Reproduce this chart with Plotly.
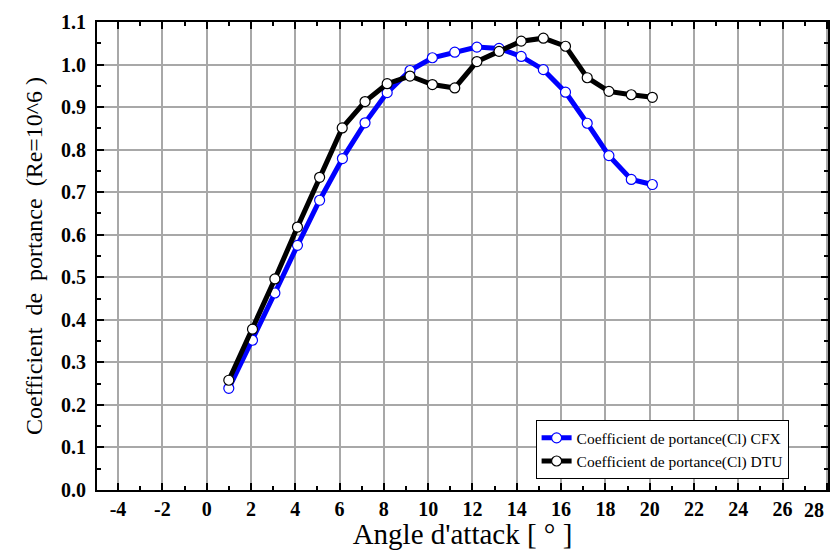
import plotly.graph_objects as go

# Angle of attack (degrees)
x_cfx = [1.0, 2.07, 3.08, 4.1, 5.1, 6.13, 7.15, 8.15, 9.18, 10.19, 11.2, 12.2, 13.2, 14.2, 15.2, 16.2, 17.18, 18.16, 19.17, 20.12]
x_dtu = [1.0, 2.07, 3.08, 4.1, 5.1, 6.12, 7.15, 8.15, 9.18, 10.19, 11.2, 12.2, 13.2, 14.2, 15.2, 16.2, 17.18, 18.16, 19.17, 20.12]

cl_cfx = [0.239, 0.352, 0.463, 0.575, 0.681, 0.779, 0.863, 0.934, 0.986, 1.016,
          1.029, 1.041, 1.038, 1.019, 0.988, 0.935, 0.862, 0.786, 0.730, 0.718]
cl_dtu = [0.258, 0.378, 0.496, 0.618, 0.735, 0.851, 0.913, 0.955, 0.973, 0.953,
          0.945, 1.007, 1.031, 1.055, 1.062, 1.043, 0.969, 0.937, 0.929, 0.923]

name_cfx = "Coefficient de portance(Cl) CFX"
name_dtu = "Coefficient de portance(Cl) DTU"

x_ticks = list(range(-4, 29, 2))
x_last = x_ticks[-1]
y_ticks = [i / 10 for i in range(0, 12)]
y_ticktext = [f"{v:.1f}" for v in y_ticks]

SERIF = "Liberation Serif, Times New Roman, serif"
TICKFONT = dict(family=SERIF, size=20, color="black", weight="bold")

fig = go.Figure()
fig.add_trace(go.Scatter(
    x=x_cfx, y=cl_cfx, mode="lines+markers", name=name_cfx,
    line=dict(color="#0000ff", width=5),
    marker=dict(symbol="circle", size=10, color="white",
                line=dict(color="#0000ff", width=1.2)),
))
fig.add_trace(go.Scatter(
    x=x_dtu, y=cl_dtu, mode="lines+markers", name=name_dtu,
    line=dict(color="black", width=5),
    marker=dict(symbol="circle", size=10, color="white",
                line=dict(color="black", width=1.2)),
))

axis_common = dict(
    showline=True, linecolor="black", linewidth=2, mirror="ticks",
    ticks="inside", ticklen=7, tickwidth=2, tickcolor="black",
    showgrid=True, gridcolor="#a8a8a8", gridwidth=1.5,
    zeroline=False,
    tickfont=TICKFONT,
)

# the last tick label (28) sits at the page edge: it is drawn as an annotation
# pushed left so that it stays fully visible, like in the original
x_ticktext = [str(v) for v in x_ticks[:-1]] + [""]

fig.update_xaxes(
    range=[-4.95, 28.05], tickvals=x_ticks, ticktext=x_ticktext,
    minor=dict(dtick=1, tick0=0, ticks="inside", ticklen=4, tickwidth=1.5,
               tickcolor="black", showgrid=False),
    title=dict(text="Angle d'attack [ ° ]", font=dict(family=SERIF, size=29, color="black"),
               standoff=0),
    **axis_common,
)
fig.update_yaxes(
    range=[0, 1.1], tickvals=y_ticks, ticktext=y_ticktext,
    minor=dict(dtick=0.05, tick0=0, ticks="inside", ticklen=4, tickwidth=1.5,
               tickcolor="black", showgrid=False),
    ticklabelstandoff=5,
    title=dict(text="Coefficient  de  portance  (Re=10^6 )",
               font=dict(family=SERIF, size=24, color="black"), standoff=12),
    **axis_common,
)

fig.add_annotation(
    x=x_last, xref="x", y=0, yref="paper", text=str(x_last),
    showarrow=False, xanchor="right", yanchor="top", xshift=-1, yshift=-7,
    font=TICKFONT,
)

fig.update_layout(
    width=830, height=550,
    margin=dict(l=97, r=0, t=22, b=60),
    paper_bgcolor="white", plot_bgcolor="white",
    showlegend=True,
    legend=dict(
        x=0.6, y=0.149, xanchor="left", yanchor="top",
        bgcolor="white", bordercolor="black", borderwidth=1,
        font=dict(family=SERIF, size=15.5, color="black"),
        tracegroupgap=0, itemwidth=30,
    ),
)

# remove the browser's default 8 px page margin so the figure fills the window
fig.write_html(
    "out.html",
    config={"displayModeBar": False},
    post_script="document.body.style.margin='0';document.body.style.overflow='hidden';",
)
